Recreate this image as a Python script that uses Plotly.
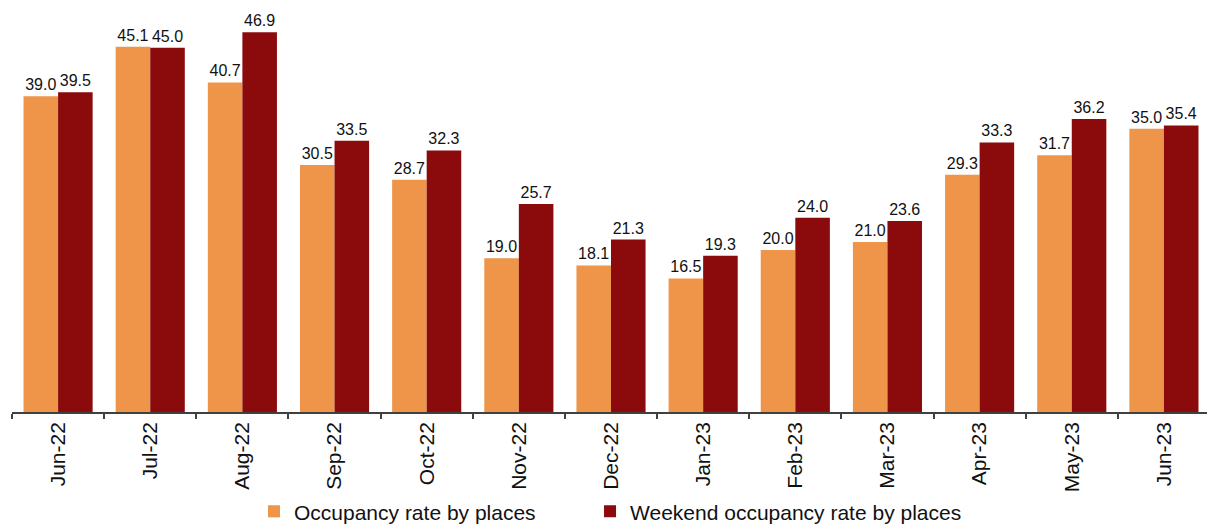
import plotly.graph_objects as go

months = ["Jun-22", "Jul-22", "Aug-22", "Sep-22", "Oct-22", "Nov-22", "Dec-22",
          "Jan-23", "Feb-23", "Mar-23", "Apr-23", "May-23", "Jun-23"]
occupancy = [39.0, 45.1, 40.7, 30.5, 28.7, 19.0, 18.1, 16.5, 20.0, 21.0, 29.3, 31.7, 35.0]
weekend = [39.5, 45.0, 46.9, 33.5, 32.3, 25.7, 21.3, 19.3, 24.0, 23.6, 33.3, 36.2, 35.4]

font = "Liberation Sans, Arial, sans-serif"

fig = go.Figure()
for vals, name, color, leg in [(occupancy, "Occupancy rate by places", "#EE9549", "legend"),
                               (weekend, "Weekend occupancy rate by places", "#8B0A0B", "legend2")]:
    fig.add_trace(go.Bar(
        x=months, y=vals, name=name, legend=leg,
        marker=dict(color=color, line=dict(width=0)),
        text=[f"{v:.1f}" for v in vals], textposition="outside",
        textangle=0, constraintext="none",
        textfont=dict(size=16, color="#111111", family=font),
        cliponaxis=False,
    ))

legend_common = dict(orientation="h", xanchor="left", y=-0.196, yanchor="top",
                     font=dict(size=21, family=font, color="#111111"), itemwidth=30)

fig.update_layout(
    width=1207, height=516,
    margin=dict(l=4, r=5, t=0, b=112, autoexpand=False),
    barmode="group", bargap=0.25, bargroupgap=0,
    plot_bgcolor="white", paper_bgcolor="white",
    font=dict(family=font, size=20, color="#111111"),
    showlegend=True,
    legend=dict(x=0.202, **legend_common),
    legend2=dict(x=0.4825, **legend_common),
    xaxis=dict(
        type="category", tickangle=-90, ticks="outside", tickson="boundaries",
        ticklen=5, tickcolor="#404040", tickwidth=1.5,
        showline=True, linecolor="#404040", linewidth=1.5,
        tickfont=dict(size=21, family=font, color="#111111"), showgrid=False,
    ),
    yaxis=dict(range=[0, 49.9], visible=False, showgrid=False),
)

fig.write_html("out.html")
